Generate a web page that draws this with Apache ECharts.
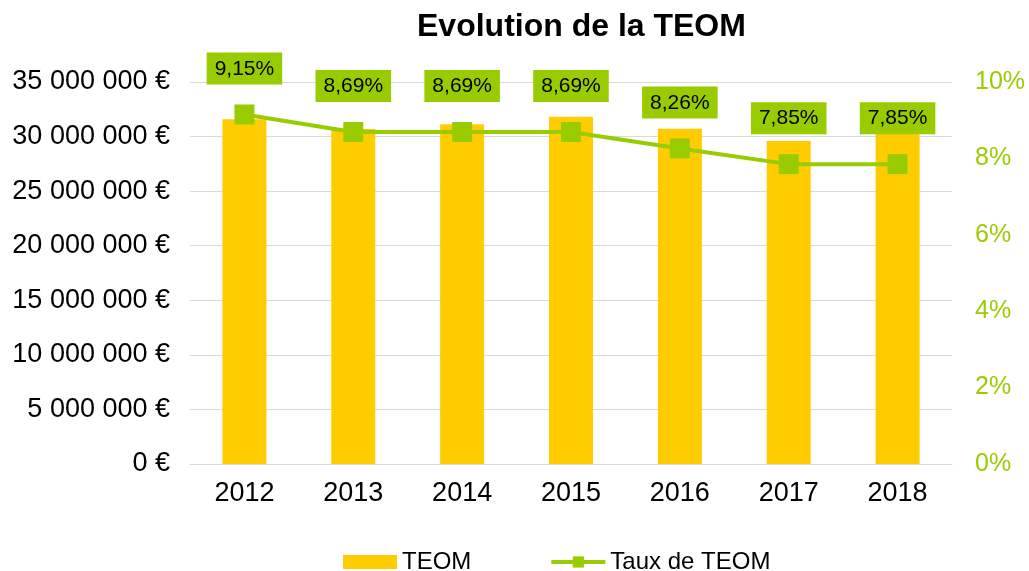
<!DOCTYPE html>
<html><head><meta charset="utf-8">
<script src="https://cdn.jsdelivr.net/npm/echarts@6/dist/echarts.min.js"></script>
<style>html,body{margin:0;padding:0;background:#fff}#c{width:1029px;height:571px}</style>
</head><body><div id="c"></div>
<script>
const years = ['2012','2013','2014','2015','2016','2017','2018'];
const teom = [31580000, 30690000, 31120000, 31820000, 30720000, 29590000, 30240000];
const taux = [9.15, 8.69, 8.69, 8.69, 8.26, 7.85, 7.85];
const leftTicks = {min: 0, max: 35000000, interval: 5000000};
const rightTicks = {min: 0, max: 10, interval: 2};

const FONT = '"Liberation Sans", Arial, sans-serif';
function euro(v){
  return String(Math.round(v)).replace(/\B(?=(\d{3})+(?!\d))/g, ' ') + ' €';
}
const chart = echarts.init(document.getElementById('c'));
chart.setOption({
  animation: false,
  textStyle: {fontFamily: FONT},
  title: {text: 'Evolution de la TEOM', left: 412, top: 6,
    textStyle: {fontFamily: FONT, fontSize: 32, fontWeight: 'bold', color: '#000'}},
  grid: {left: 190, right: 77, top: 82, bottom: 107},
  legend: {left: 338, top: 545, itemGap: 78, itemWidth: 54, itemHeight: 14,
    textStyle: {fontFamily: FONT, fontSize: 24, color: '#000'},
    data: [{name: 'TEOM', icon: 'rect'},
           {name: 'Taux de TEOM', lineStyle: {width: 4}}]},
  xAxis: {type: 'category', data: years,
    axisLine: {lineStyle: {color: '#d9d9d9'}}, axisTick: {show: false},
    axisLabel: {fontFamily: FONT, fontSize: 27, color: '#000', margin: 16}},
  yAxis: [
    {type: 'value', min: leftTicks.min, max: leftTicks.max, interval: leftTicks.interval,
      axisLine: {show: false}, axisTick: {show: false},
      splitLine: {lineStyle: {color: '#d9d9d9'}},
      axisLabel: {fontFamily: FONT, fontSize: 27, color: '#000', margin: 20, formatter: euro}},
    {type: 'value', min: rightTicks.min, max: rightTicks.max, interval: rightTicks.interval,
      axisLine: {show: false}, axisTick: {show: false}, splitLine: {show: false},
      axisLabel: {fontFamily: FONT, fontSize: 25, color: '#99cc00', margin: 23,
        formatter: v => v + '%'}}
  ],
  series: [
    {name: 'TEOM', type: 'bar', data: teom, barWidth: 44,
      itemStyle: {color: '#ffcc00'}},
    {name: 'Taux de TEOM', type: 'line', yAxisIndex: 1, data: taux,
      symbol: 'rect', symbolSize: 20,
      lineStyle: {color: '#99cc00', width: 4},
      itemStyle: {color: '#99cc00'},
      label: {show: true, position: 'top', distance: 20,
        formatter: p => p.value.toFixed(2).replace('.', ',') + '%',
        backgroundColor: '#99cc00', color: '#000', fontFamily: FONT, fontSize: 21,
        padding: [6, 8, 5, 8]}}
  ]
});
</script></body></html>
